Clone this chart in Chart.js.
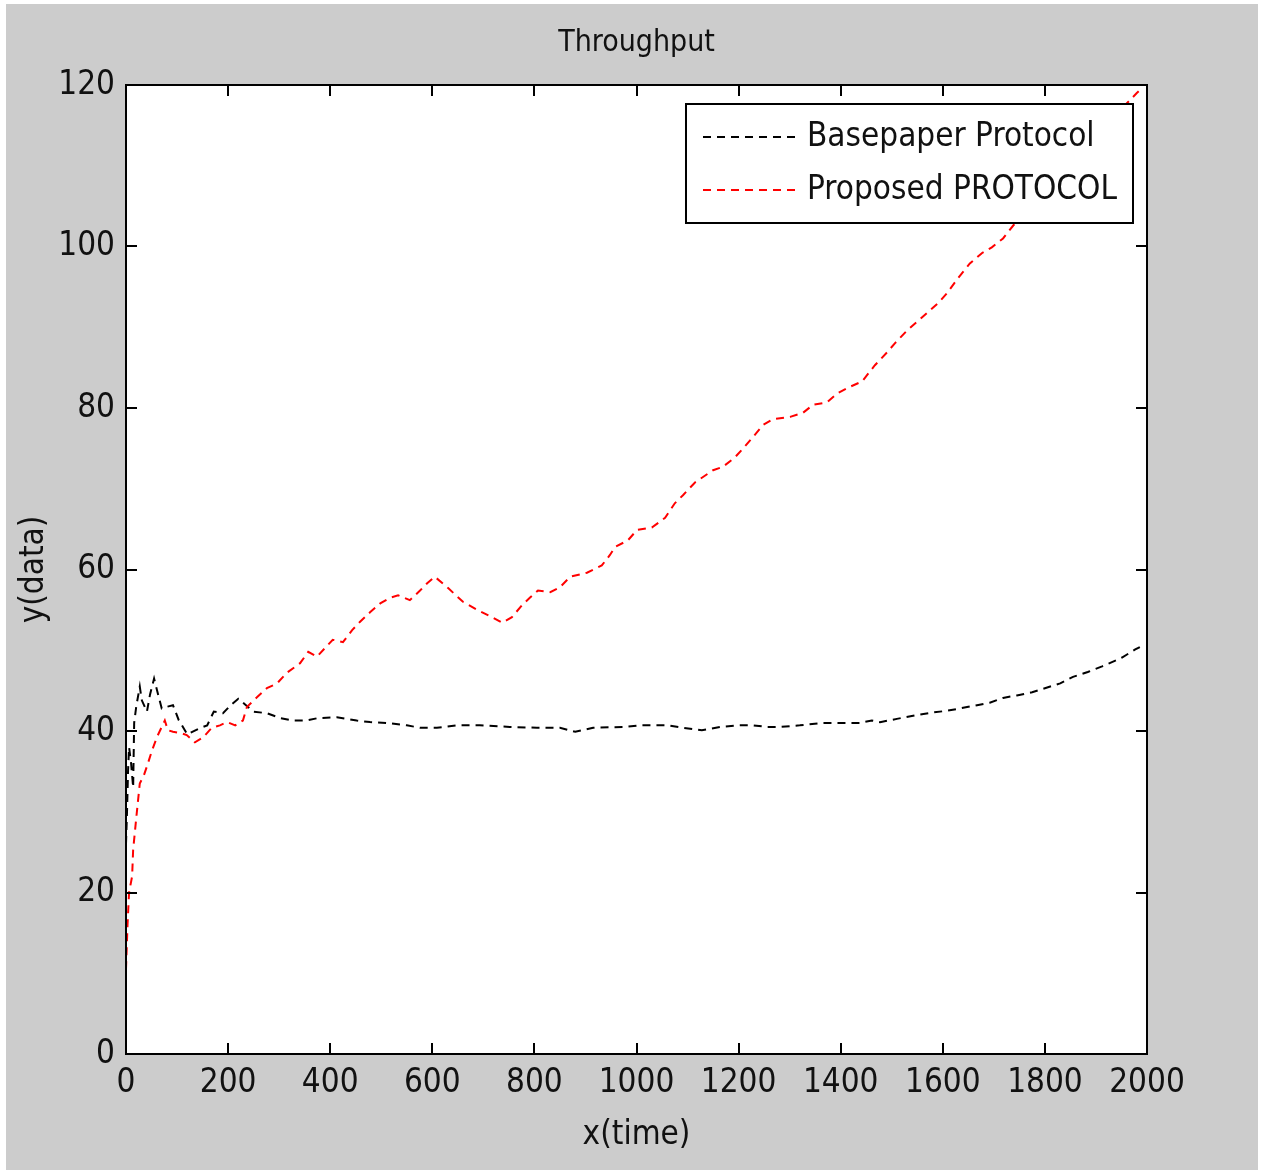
<!DOCTYPE html>
<html>
<head>
<meta charset="utf-8">
<title>Throughput</title>
<script src="https://cdn.jsdelivr.net/npm/chart.js@4.4.1/dist/chart.umd.min.js"></script>
<style>
  html, body { margin: 0; padding: 0; background: #fff; }
  #wrap { width: 1261px; height: 1171px; }
  canvas { display: block; }
</style>
</head>
<body>
<div id="wrap"><canvas id="throughputChart" width="1261" height="1171"></canvas></div>
<script>
// basepaper protocol: time / throughput samples
const baseTime = [0, 2, 4, 6, 10, 14, 16, 20, 27, 31, 41, 47, 55, 63, 70, 80, 92, 103, 120, 143, 159, 172, 190, 205, 220, 235, 250, 276, 302, 327, 354, 376, 413, 452, 478, 511, 550, 576, 609, 648, 693, 752, 805, 850, 880, 915, 974, 1007, 1060, 1091, 1128, 1164, 1203, 1228, 1256, 1281, 1320, 1365, 1405, 1438, 1461, 1477, 1510, 1526, 1551, 1581, 1608, 1634, 1667, 1692, 1718, 1745, 1775, 1800, 1830, 1855, 1884, 1912, 1941, 1951, 1977, 1986];
const baseThroughput = [26, 30, 35, 38, 36, 33, 41, 43, 45.5, 43.8, 42.4, 44.5, 46.5, 44.5, 42.8, 43, 43.2, 41.4, 39.6, 40.3, 40.7, 42.4, 42.2, 43.2, 44, 43.2, 42.4, 42.2, 41.6, 41.3, 41.3, 41.6, 41.7, 41.3, 41.1, 41.0, 40.7, 40.4, 40.4, 40.7, 40.7, 40.5, 40.4, 40.4, 39.9, 40.4, 40.5, 40.7, 40.7, 40.4, 40.1, 40.5, 40.7, 40.7, 40.5, 40.5, 40.7, 41.0, 41.0, 41.0, 41.3, 41.1, 41.5, 41.7, 42.0, 42.3, 42.5, 42.8, 43.2, 43.5, 44.1, 44.4, 44.8, 45.3, 45.9, 46.7, 47.3, 48.0, 48.8, 49.1, 50.1, 50.4];

// proposed protocol: time / throughput samples
const propTime = [0, 3, 6, 12, 14, 21, 27, 35, 43, 51, 61, 76, 82, 92, 110, 119, 135, 151, 168, 184, 198, 214, 229, 237, 257, 276, 296, 315, 341, 357, 374, 405, 425, 443, 458, 478, 498, 517, 533, 556, 576, 590, 605, 631, 660, 688, 717, 737, 756, 776, 791, 807, 831, 850, 870, 903, 932, 948, 958, 983, 1001, 1030, 1056, 1075, 1091, 1115, 1150, 1169, 1193, 1209, 1228, 1248, 1267, 1301, 1326, 1346, 1373, 1393, 1414, 1442, 1467, 1491, 1506, 1530, 1559, 1591, 1608, 1630, 1653, 1677, 1696, 1718, 1738, 1780, 1820, 1860, 1900, 1940, 1980, 1990];
const propThroughput = [10.5, 16, 20, 22, 25.3, 29.8, 33.5, 34.5, 36, 37.6, 39.3, 41.3, 40.1, 39.9, 39.7, 39.5, 38.6, 39.2, 40.4, 40.7, 41.1, 40.7, 41.3, 43, 44.2, 45.3, 45.9, 47.2, 48.4, 49.8, 49.2, 51.3, 51.0, 52.5, 53.5, 54.7, 55.8, 56.5, 56.8, 56.2, 57.4, 58.3, 59.1, 57.7, 56.0, 55.0, 54.1, 53.4, 54.1, 55.6, 56.5, 57.4, 57.2, 57.8, 59.1, 59.6, 60.5, 61.8, 62.8, 63.6, 64.9, 65.2, 66.4, 68.2, 69.2, 70.8, 72.3, 72.7, 73.9, 75.0, 76.4, 77.9, 78.6, 78.9, 79.4, 80.4, 80.7, 81.8, 82.5, 83.3, 85.3, 86.9, 88.0, 89.6, 91.2, 93.0, 94.2, 96.1, 97.9, 99.2, 99.9, 101.0, 102.6, 105.5, 108.2, 111, 113.8, 116.4, 119.0, 119.6];

const seriesLabels = ['Basepaper Protocol', 'Proposed PROTOCOL'];
const xTickValues = [0, 200, 400, 600, 800, 1000, 1200, 1400, 1600, 1800, 2000];
const yTickValues = [0, 20, 40, 60, 80, 100, 120];

const FONT = "'Liberation Sans Narrow', 'Arial Narrow', 'DejaVu Sans Condensed', 'Liberation Sans', Arial, sans-serif";
const TICK_LEN = 11;

const toPoints = (xs, ys) => xs.map((x, i) => ({ x: x, y: ys[i] }));

// grey figure background with a white plot area
const figureFrame = {
  id: 'figureFrame',
  beforeDraw(chart) {
    const { ctx, chartArea: a } = chart;
    ctx.save();
    ctx.fillStyle = '#fff';
    ctx.fillRect(0, 0, chart.width, chart.height);
    ctx.fillStyle = '#cccccc';
    ctx.fillRect(6, 4, chart.width - 9, chart.height - 5);
    ctx.fillStyle = '#fff';
    ctx.fillRect(a.left, a.top, a.right - a.left, a.bottom - a.top);
    ctx.restore();
  }
};

// closed box with inward ticks on all four sides
const boxAxes = {
  id: 'boxAxes',
  afterDatasetsDraw(chart) {
    const { ctx, chartArea: a, scales } = chart;
    ctx.save();
    ctx.strokeStyle = '#000';
    ctx.lineWidth = 2;
    ctx.strokeRect(a.left, a.top, a.right - a.left, a.bottom - a.top);
    ctx.beginPath();
    scales.x.ticks.forEach(t => {
      const px = Math.round(scales.x.getPixelForValue(t.value));
      ctx.moveTo(px, a.bottom); ctx.lineTo(px, a.bottom - TICK_LEN);
      ctx.moveTo(px, a.top); ctx.lineTo(px, a.top + TICK_LEN);
    });
    scales.y.ticks.forEach(t => {
      const py = Math.round(scales.y.getPixelForValue(t.value));
      ctx.moveTo(a.left, py); ctx.lineTo(a.left + TICK_LEN, py);
      ctx.moveTo(a.right, py); ctx.lineTo(a.right - TICK_LEN, py);
    });
    ctx.stroke();
    ctx.restore();
  }
};

// legend inside the top right corner, opaque, framed
const boxLegend = {
  id: 'boxLegend',
  afterDatasetsDraw(chart) {
    const { ctx, chartArea: a } = chart;
    const sets = chart.data.datasets;
    ctx.save();
    ctx.font = '33px ' + FONT;
    const textW = Math.max(...sets.map(d => ctx.measureText(d.label).width));
    const sample = 92, gap = 12, padL = 17, padR = 16, rowH = 53;
    const w = padL + sample + gap + textW + padR;
    const h = rowH * sets.length + 13;
    const x = a.right - 14 - w;
    const y = a.top + 19;
    ctx.fillStyle = '#fff';
    ctx.fillRect(x, y, w, h);
    ctx.lineWidth = 2;
    ctx.strokeStyle = '#000';
    ctx.strokeRect(x, y, w, h);
    sets.forEach((d, i) => {
      const cy = y + 33 + i * rowH;
      ctx.strokeStyle = d.borderColor;
      ctx.lineWidth = d.borderWidth;
      ctx.setLineDash(d.borderDash);
      ctx.beginPath();
      ctx.moveTo(x + padL, cy);
      ctx.lineTo(x + padL + sample, cy);
      ctx.stroke();
      ctx.setLineDash([]);
      ctx.fillStyle = '#111';
      ctx.textAlign = 'left';
      ctx.textBaseline = 'middle';
      ctx.fillText(d.label, x + padL + sample + gap, cy);
    });
    ctx.restore();
  }
};

const tickFont = { family: FONT, size: 33 };
const plainNumber = v => String(v);

new Chart(document.getElementById('throughputChart'), {
  type: 'line',
  data: {
    datasets: [{
      label: seriesLabels[0],
      data: toPoints(baseTime, baseThroughput),
      borderColor: '#000000',
      borderWidth: 2,
      borderDash: [8, 6],
      pointRadius: 0,
      tension: 0,
      fill: false,
      order: 1
    }, {
      label: seriesLabels[1],
      data: toPoints(propTime, propThroughput),
      borderColor: '#ff0000',
      borderWidth: 2,
      borderDash: [8, 6],
      pointRadius: 0,
      tension: 0,
      fill: false,
      order: 0
    }]
  },
  options: {
    responsive: false,
    devicePixelRatio: 1,
    animation: false,
    layout: { padding: { left: 0, right: 114, top: 0, bottom: 0 } },
    plugins: {
      legend: { display: false },
      tooltip: { enabled: false },
      title: {
        display: true,
        fullSize: false,
        text: 'Throughput',
        color: '#111',
        font: { family: FONT, size: 30, weight: 'normal' },
        padding: { top: 25, bottom: 24 }
      }
    },
    scales: {
      x: {
        type: 'linear',
        min: 0,
        max: 2000,
        afterBuildTicks: s => { s.ticks = xTickValues.map(v => ({ value: v })); },
        afterFit: s => { s.height = 117; },
        grid: { display: false, drawTicks: false },
        border: { display: false },
        ticks: { color: '#111', padding: 10, maxRotation: 0, autoSkip: false, font: tickFont, callback: plainNumber },
        title: {
          display: true,
          text: 'x(time)',
          color: '#111',
          font: tickFont,
          padding: { top: 0, bottom: 16 }
        }
      },
      y: {
        type: 'linear',
        min: 0,
        max: 120,
        afterBuildTicks: s => { s.ticks = yTickValues.map(v => ({ value: v })); },
        afterFit: s => { s.width = 126; },
        grid: { display: false, drawTicks: false },
        border: { display: false },
        ticks: { color: '#111', padding: 11, font: tickFont, callback: plainNumber },
        title: {
          display: true,
          text: 'y(data)',
          color: '#111',
          font: tickFont,
          padding: { top: 15, bottom: 0 }
        }
      }
    }
  },
  plugins: [figureFrame, boxAxes, boxLegend]
});
</script>
</body>
</html>
